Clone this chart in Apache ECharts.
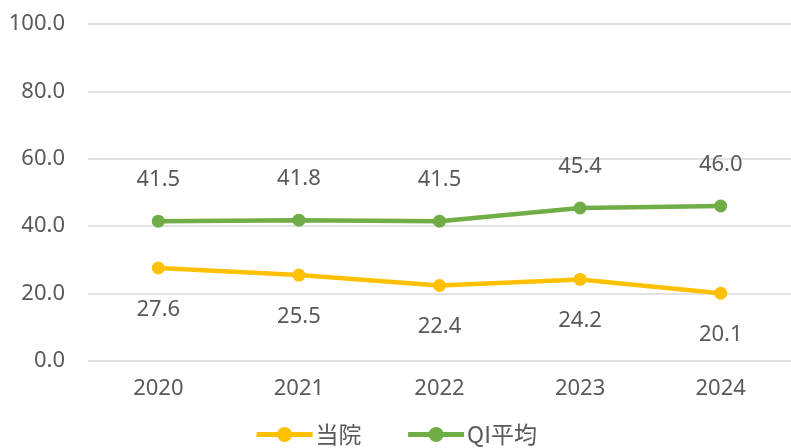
<!DOCTYPE html>
<html>
<head>
<meta charset="utf-8">
<script src="https://cdn.jsdelivr.net/npm/echarts@6/dist/echarts.min.js"></script>
<style>
  html, body { margin: 0; padding: 0; background: #fff; }
  #chart { width: 791px; height: 448px; }
</style>
</head>
<body>
<div id="chart"></div>
<script>
const years = ['2020', '2021', '2022', '2023', '2024']
const touin = [27.6, 25.5, 22.4, 24.2, 20.1]
const qiAvg = [41.5, 41.8, 41.5, 45.4, 46.0]
const yTicks = [0, 20, 40, 60, 80, 100]

const font = '"Noto Sans", "Noto Sans CJK JP", sans-serif'
const textColor = '#595959'

const myChart = echarts.init(document.getElementById('chart'))

const lineSeries = (name, data, color, labelPos) => ({
  name,
  type: 'line',
  data,
  symbol: 'circle',
  symbolSize: 13,
  itemStyle: { color },
  lineStyle: { color, width: 4.5 },
  label: {
    show: true,
    position: labelPos,
    distance: 24,
    color: textColor,
    fontSize: 22,
    fontFamily: font,
    formatter: p => p.value.toFixed(1)
  }
})

const option = {
  animation: false,
  grid: { left: 88, right: 0, top: 24, bottom: 87 },
  legend: {
    bottom: -3,
    left: 'center',
    itemWidth: 56,
    itemHeight: 19,
    itemGap: 44,
    lineStyle: { width: 5 },
    textStyle: { color: textColor, fontSize: 23, fontFamily: '"Noto Sans CJK JP", sans-serif', padding: [0, 0, 0, -2] },
    data: ['当院', 'QI平均']
  },
  xAxis: {
    type: 'category',
    data: years,
    axisLine: { show: false },
    axisTick: { show: false },
    axisLabel: { color: textColor, fontSize: 22, fontFamily: font, margin: 17 }
  },
  yAxis: {
    type: 'value',
    min: yTicks[0],
    max: yTicks[yTicks.length - 1],
    interval: 20,
    axisLabel: {
      color: textColor,
      fontSize: 22,
      fontFamily: font,
      margin: 23,
      formatter: v => v.toFixed(1)
    },
    splitLine: { lineStyle: { color: '#d9d9d9', width: 1.5 } }
  },
  series: [
    lineSeries('当院', touin, '#FFC000', 'bottom'),
    lineSeries('QI平均', qiAvg, '#70AD47', 'top')
  ]
}

myChart.setOption(option)
</script>
</body>
</html>
